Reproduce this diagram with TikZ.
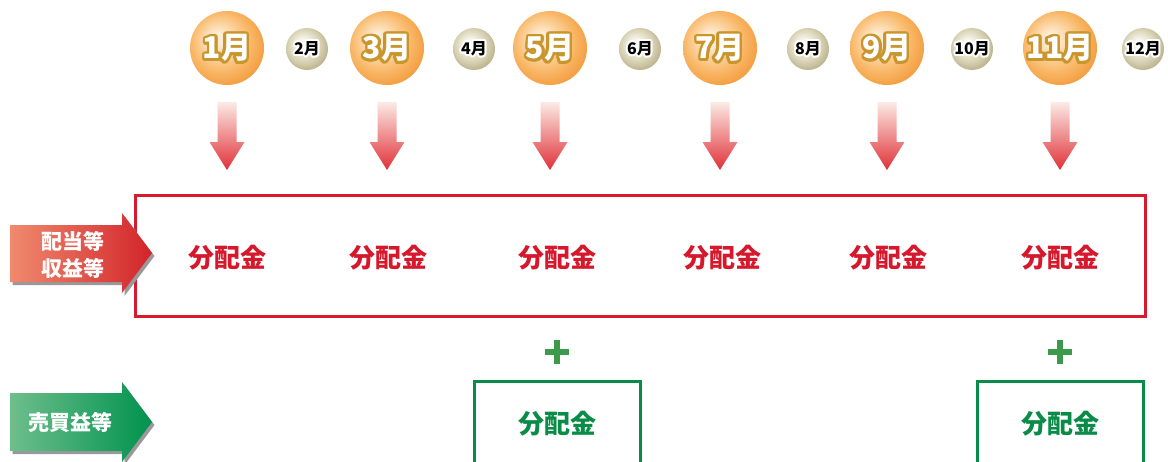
\documentclass[tikz,border=0pt]{standalone}
\usepackage{fontspec}
\newfontfamily\jp{Noto Sans CJK JP}
\usetikzlibrary{calc}
\definecolor{boxred}{RGB}{215,26,46}
\definecolor{txtred}{RGB}{213,24,44}
\definecolor{grn}{RGB}{10,140,72}
\definecolor{plusgrn}{RGB}{60,154,72}
\definecolor{gold}{RGB}{200,150,45}
\definecolor{obA}{RGB}{254,236,212}
\definecolor{obB}{RGB}{249,184,104}
\definecolor{obC}{RGB}{242,152,56}
\definecolor{osA}{RGB}{248,246,234}
\definecolor{osB}{RGB}{214,208,178}
\definecolor{osC}{RGB}{178,170,130}
\definecolor{arrTop}{RGB}{252,234,228}
\definecolor{arrBot}{RGB}{224,48,56}
\definecolor{redL}{RGB}{240,138,110}
\definecolor{redR}{RGB}{210,36,42}
\definecolor{grnL}{RGB}{110,190,140}
\definecolor{grnR}{RGB}{0,146,78}
\pgfdeclareradialshading{orbbig}{\pgfpoint{-7bp}{7bp}}{color(0bp)=(obA); color(4bp)=(obA); color(20bp)=(obB); color(31bp)=(obC); color(50bp)=(obC)}
\pgfdeclareradialshading{orbsmall}{\pgfpoint{-6bp}{7bp}}{color(0bp)=(osA); color(6bp)=(osA); color(20bp)=(osB); color(31bp)=(osC); color(50bp)=(osC)}
\tikzset{
  bigorb/.style={circle, minimum size=74pt, inner sep=0pt, shade, shading=orbbig},
  smallorb/.style={circle, minimum size=42pt, inner sep=0pt, shade, shading=orbsmall},
  bigtxt/.style={font=\jp\bfseries\fontsize{30}{30}\selectfont, inner sep=0pt},
  smalltxt/.style={font=\jp\bfseries\fontsize{16}{16}\selectfont, inner sep=0pt},
  downarr/.style={top color=arrTop, bottom color=arrBot},
  redtxt/.style={font=\jp\bfseries\fontsize{26}{26}\selectfont, text=txtred, inner sep=0pt},
  grntxt/.style={font=\jp\bfseries\fontsize{26}{26}\selectfont, text=grn, inner sep=0pt},
  sidetxt/.style={font=\jp\bfseries\fontsize{21}{27}\selectfont, text=white, align=center, inner sep=0pt},
  plussign/.style={draw=plusgrn, line width=6pt},
  grnbox/.style={draw=grn, line width=3pt, minimum width=166pt, minimum height=140pt, inner sep=0pt},
}
\newcommand\bigmonth[3]{%
  \node[bigorb] (#1) at (#2,48) {};
  \foreach \a in {0,20,...,340} \node[bigtxt,text=gold] at ($(#1)+(\a:2.7)$) {#3};
  \node[bigtxt,text=white] (#1t) at (#1) {#3};
  \coordinate (#1a) at (#2,102);
  \shade[downarr] ($(#1a)+(-9.5,0)$) -- ++(19,0) -- ++(0,40) -- ++(8,0) -- ++(-17.5,28) -- ++(-17.5,-28) -- ++(8,0) -- cycle;
}
\newcommand\smallmonth[3]{%
  \node[smallorb] (#1) at (#2,49) {};
  \foreach \a in {0,30,...,330} \node[smalltxt,text=white] at ($(#1)+(\a:2)$) {#3};
  \node[smalltxt,text=black] (#1t) at (#1) {#3};
}
\begin{document}
\begin{tikzpicture}[x=1pt,y=-1pt]
\clip (0,0) rectangle (1168,461);
\fill[white] (0,0) rectangle (1168,461);
% months
\bigmonth{m1}{227}{1月}
\smallmonth{m2}{307}{2月}
\bigmonth{m3}{387}{3月}
\smallmonth{m4}{474}{4月}
\bigmonth{m5}{550}{5月}
\smallmonth{m6}{640}{6月}
\bigmonth{m7}{720}{7月}
\smallmonth{m8}{808}{8月}
\bigmonth{m9}{887}{9月}
\smallmonth{m10}{972}{10月}
\bigmonth{m11}{1060}{11月}
\smallmonth{m12}{1143}{12月}
% red box
\node[draw=boxred, line width=3pt, minimum width=1010pt, minimum height=121pt, inner sep=0pt] (dbox) at (640,255.5) {};
\node[redtxt] (d1) at (227,258) {分配金};
\node[redtxt] (d3) at (388,258) {分配金};
\node[redtxt] (d5) at (557,258) {分配金};
\node[redtxt] (d7) at (722,258) {分配金};
\node[redtxt] (d9) at (888,258) {分配金};
\node[redtxt] (d11) at (1060,258) {分配金};
% left red arrow
\fill[black!40, shift={(2.5,3)}] (10,225) -- (122,225) -- (122,213) -- (152,253) -- (122,293) -- (122,282) -- (10,282) -- cycle;
\shade[left color=redL, right color=redR] (10,225) -- (122,225) -- (122,213) -- (152,253) -- (122,293) -- (122,282) -- (10,282) -- cycle;
\node[sidetxt] (lab1) at (73,255) {配当等\\収益等};
% left green arrow
\fill[black!40, shift={(2.5,3)}] (10,393) -- (122,393) -- (122,382) -- (152,422) -- (122,462) -- (122,451) -- (10,451) -- cycle;
\shade[left color=grnL, right color=grnR] (10,393) -- (122,393) -- (122,382) -- (152,422) -- (122,462) -- (122,451) -- (10,451) -- cycle;
\node[sidetxt] (lab2) at (70,422) {売買益等};
% plus signs
\coordinate (p5) at (557,352);
\coordinate (p11) at (1060,352);
\draw[plussign] ($(p5)+(-12,0)$) -- ($(p5)+(12,0)$) ($(p5)+(0,-12)$) -- ($(p5)+(0,12)$);
\draw[plussign] ($(p11)+(-12,0)$) -- ($(p11)+(12,0)$) ($(p11)+(0,-12)$) -- ($(p11)+(0,12)$);
% green boxes
\node[grnbox] (g5) at (557,451) {};
\node[grnbox] (g11) at (1060,451) {};
\node[grntxt] (gt5) at (557,424) {分配金};
\node[grntxt] (gt11) at (1060,424) {分配金};
\end{tikzpicture}
\end{document}
